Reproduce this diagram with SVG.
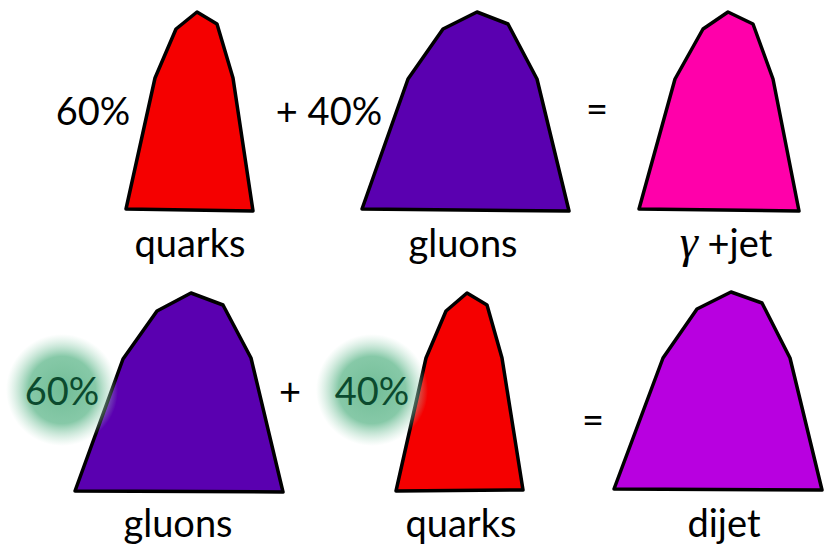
<svg xmlns="http://www.w3.org/2000/svg" width="824" height="550" viewBox="0 0 824 550">
<defs>
<radialGradient id="glow" cx="0.5" cy="0.5" r="0.5">
<stop offset="0" stop-color="#72bd97" stop-opacity="1"/>
<stop offset="0.6" stop-color="#80c6a3" stop-opacity="0.95"/>
<stop offset="1" stop-color="#b0dcc6" stop-opacity="0"/>
</radialGradient>
<style>
.shape{stroke:#000;stroke-width:3.5;stroke-linejoin:round}
.red{fill:#f50000}
.pur{fill:#5a00b0}
.pink{fill:#ff00aa}
.mag{fill:#b800e0}
.t{font-family:"Lato","Open Sans",sans-serif;font-size:38px;fill:#000;text-anchor:middle}
.g{fill:#0b4a2e}
</style>
</defs>
<rect width="824" height="550" fill="#fff"/>
<g id="quarks-top">
<polygon class="shape red" points="126,209 155,78 176,29 197,12 217,24 233,78 253,211"/>
<text class="t" x="190" y="257">quarks</text>
</g>
<g id="gluons-top">
<polygon class="shape pur" points="362,209 408,79 443,29 477,12 508,24 537,79 569,211"/>
<text class="t" x="463" y="257">gluons</text>
</g>
<g id="gammajet">
<polygon class="shape pink" points="639,209 675,79 703,29 728,12 753,24 773,79 799,211"/>
<text class="t" x="726" y="257"><tspan font-family="Liberation Serif, serif" font-style="italic" font-size="46">γ</tspan> +jet</text>
</g>
<g id="gluons-bottom">
<polygon class="shape pur" points="75,491 123,359 157,311 191,293 223,305 251,358 283,492"/>
<text class="t" x="178" y="537">gluons</text>
</g>
<g id="quarks-bottom">
<polygon class="shape red" points="396,491 426,358 446,311 467,293 487,305 502,358 523,490"/>
<text class="t" x="461" y="537">quarks</text>
</g>
<g id="dijet">
<polygon class="shape mag" points="614,489 663,358 697,309 731,292 762,303 790,358 822,490"/>
<text class="t" x="724" y="537">dijet</text>
</g>
<g id="operators">
<text class="t" x="93" y="125">60%</text>
<text class="t" x="329" y="125">+ 40%</text>
<text class="t" x="597" y="123">=</text>
<circle cx="62" cy="390" r="56" fill="url(#glow)"/>
<circle cx="372" cy="390" r="56" fill="url(#glow)"/>
<text class="t g" x="62" y="405">60%</text>
<text class="t" x="290" y="405">+</text>
<text class="t g" x="372" y="405">40%</text>
<text class="t" x="593" y="434">=</text>
</g>
<g id="connectors"/>
</svg>
